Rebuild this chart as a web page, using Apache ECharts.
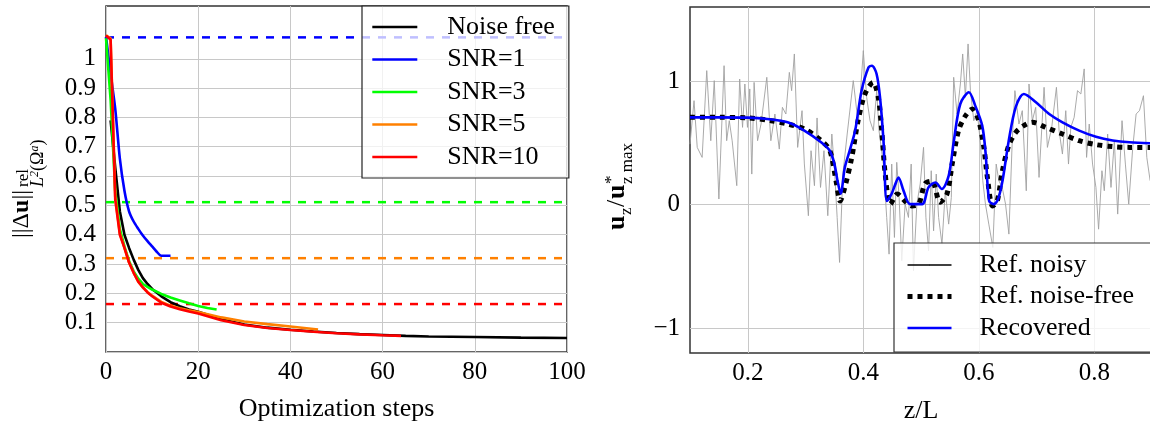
<!DOCTYPE html>
<html>
<head>
<meta charset="utf-8">
<script src="https://cdn.jsdelivr.net/npm/echarts@6/dist/echarts.min.js"></script>
<style>
html,body{margin:0;padding:0;background:#fff;}
#chart{width:1150px;height:426px;}
</style>
</head>
<body>
<div id="chart"></div>
<script>
// ---------- Left panel data ----------
const seriesNamesLeft = ['Noise free', 'SNR=1', 'SNR=3', 'SNR=5', 'SNR=10'];

const noiseFreeSteps = [1,2,3,4,5,6,7,8,9,10,12,14,16,18,20,25,30,35,40,45,50,55,60,65,70,80,90,100];
const noiseFreeErr   = [0.79,0.63,0.48,0.40,0.355,0.315,0.28,0.252,0.232,0.215,0.19,0.17,0.156,0.145,0.137,0.112,0.094,0.083,0.076,0.07,0.065,0.061,0.058,0.055,0.053,0.051,0.049,0.048];

const snr1Steps = [0,1,2,3,4,5,6,7,8,9,10,11,12,13,14];
const snr1Err   = [1.075,0.95,0.83,0.66,0.55,0.48,0.445,0.42,0.397,0.378,0.36,0.342,0.328,0.328,0.328];

const snr3Steps = [0,1,2,3,4,5,6,7,8,9,10,12,14,16,18,20,22,24];
const snr3Err   = [1.07,0.86,0.55,0.42,0.36,0.31,0.275,0.25,0.232,0.222,0.213,0.198,0.186,0.176,0.166,0.157,0.15,0.145];

const snr5Steps = [0,1,2,3,4,5,6,7,8,9,10,12,14,16,18,20,25,30,35,40,46];
const snr5Err   = [1.08,1.07,0.53,0.405,0.355,0.305,0.27,0.24,0.22,0.205,0.192,0.171,0.158,0.149,0.142,0.136,0.118,0.104,0.095,0.087,0.077];

const snr10Steps = [0,1,2,3,4,5,6,7,8,9,10,12,14,16,18,20,25,30,35,40,45,50,55,60,64];
const snr10Err   = [1.08,1.065,0.52,0.40,0.355,0.305,0.27,0.24,0.22,0.203,0.19,0.168,0.155,0.146,0.138,0.131,0.108,0.092,0.082,0.075,0.069,0.064,0.06,0.057,0.055];

// noise level (dashed) for SNR=1, 3, 5, 10
const noiseLevels = [1.073, 0.511, 0.32, 0.1635];
const stepRange = [0, 100];

// ---------- Right panel data ----------
const seriesNamesRight = ['Ref. noisy', 'Ref. noise-free', 'Recovered'];

const noisyZ = [0.100,0.107,0.1125,0.121,0.129,0.136,0.142,0.150,0.159,0.1635,0.168,0.173,0.181,0.186,0.191,0.195,0.1995,0.2035,0.207,0.211,0.217,0.223,0.233,0.240,0.247,0.2546,0.260,0.266,0.272,0.276,0.2807,0.2864,0.294,0.298,0.305,0.3096,0.3155,0.32,0.326,0.332,0.3386,0.3456,0.3503,0.3548,0.359,0.3647,0.3722,
  0.3827,0.3914,0.4001,0.4059,0.4117,0.4175,0.4233,0.4273,0.4348,0.4406,0.4447,0.4493,0.454,0.458,0.4621,0.4667,0.4725,0.4783,0.483,0.487,0.4928,0.4986,0.5044,0.5085,0.5131,0.5177,0.5218,0.5264,0.5305,0.5363,0.5421,0.5479,0.5525,0.5566,0.5624,0.5682,0.5722,0.5769,0.5815,0.5856,0.5914,0.5972,0.603,0.607,0.6116,0.6174,0.6244,0.6302,
  0.6348,0.6406,0.6464,0.6522,0.658,0.6626,0.6696,0.6754,0.6823,0.687,0.6928,0.6986,0.7044,0.7131,0.7189,0.7264,0.7345,0.7391,0.7449,0.7507,0.7554,0.7594,0.7652,0.771,0.7768,0.7826,0.7867,0.7913,0.7971,0.8029,0.8075,0.8133,0.8174,0.8232,0.829,0.8348,0.8406,0.8481,0.8539,0.8597,0.8667,0.8725,0.8783,0.8852,0.891,0.8968];
const noisyVal = [0.49,0.842,0.464,0.383,1.085,0.518,1.004,0.046,1.125,0.518,0.68,0.518,0.154,1.017,0.626,0.977,0.626,0.937,0.248,0.99,0.518,0.653,1.031,0.518,0.734,0.45,0.788,0.734,1.071,0.923,1.22,0.464,0.761,0.33,-0.089,0.437,0.154,0.702,0.14,0.437,-0.089,0.572,0.275,-0.103,-0.467,0.248,0.572,
  1.004,0.653,1.247,0.869,0.68,0.599,0.923,0.599,0.329,-0.103,-0.40,0.329,-0.265,0.343,0.059,-0.453,0.005,-0.103,0.329,-0.534,0.005,0.167,0.464,-0.103,-0.373,0.275,-0.211,0.248,-0.103,-0.319,0.113,-0.157,0.059,1.031,0.734,0.977,1.22,0.869,1.301,0.923,0.68,0.761,0.491,0.194,0.005,-0.157,-0.346,0.329,
  0.194,0.14,0.005,-0.238,0.518,0.923,0.653,0.761,0.113,0.977,0.68,0.788,0.221,0.95,0.464,0.626,0.95,0.599,0.41,0.761,0.329,0.626,0.707,0.923,0.896,1.099,0.383,0.653,0.329,0.14,-0.198,0.275,0.113,0.572,0.14,0.518,-0.076,0.68,0.329,0.005,0.464,0.734,0.761,0.882,0.383,0.194];

const refZ   = [0.10,0.15,0.20,0.24,0.269,0.298,0.327,0.342,0.353,0.36,0.368,0.38,0.391,0.403,0.417,0.426,0.432,0.438,0.447,0.459,0.472,0.484,0.496,0.507,0.519,0.533,0.545,0.554,0.565,0.577,0.589,0.600,0.609,0.615,0.624,0.632,0.641,0.652,0.664,0.678,0.693,0.716,0.745,0.774,0.803,0.832,0.861,0.90];
const refVal = [0.707,0.707,0.703,0.68,0.653,0.613,0.52,0.44,0.19,0.03,0.14,0.38,0.68,0.896,0.99,0.87,0.60,0.25,0.005,0.087,0.03,-0.01,0.005,0.17,0.19,0.02,0.087,0.33,0.60,0.72,0.775,0.68,0.46,0.22,-0.01,0.03,0.275,0.48,0.585,0.64,0.667,0.626,0.572,0.518,0.486,0.47,0.464,0.464];

const recZ   = [0.10,0.15,0.20,0.234,0.269,0.298,0.327,0.342,0.350,0.356,0.361,0.368,0.376,0.386,0.397,0.409,0.415,0.423,0.429,0.435,0.441,0.449,0.455,0.461,0.47,0.481,0.502,0.513,0.525,0.536,0.548,0.557,0.568,0.583,0.594,0.606,0.612,0.618,0.626,0.633,0.641,0.652,0.664,0.678,0.699,0.722,0.745,0.774,0.803,0.832,0.861,0.90];
const recVal = [0.707,0.707,0.705,0.694,0.667,0.60,0.505,0.437,0.33,0.18,0.09,0.30,0.43,0.60,0.92,1.11,1.125,1.06,0.87,0.52,0.03,0.087,0.16,0.22,0.11,0.005,0.005,0.14,0.18,0.127,0.235,0.52,0.815,0.91,0.80,0.64,0.41,0.03,0.005,0.04,0.19,0.52,0.79,0.896,0.83,0.734,0.667,0.60,0.55,0.52,0.505,0.497];

// ---------- helpers ----------
const zip = (xs, ys) => xs.map((x, i) => [x, ys[i]]);
const SERIF = "'Liberation Serif', 'DejaVu Serif', serif";
const GRID = '#c8c8c8';

const leftColors = ['#000000', '#0000ff', '#00ff00', '#ff8000', '#ff0000'];
const leftData = [
  zip(noiseFreeSteps, noiseFreeErr),
  zip(snr1Steps, snr1Err),
  zip(snr3Steps, snr3Err),
  zip(snr5Steps, snr5Err),
  zip(snr10Steps, snr10Err)
];

const series = [];
// dashed noise levels
noiseLevels.forEach((lv, i) => {
  series.push({
    name: 'level' + i, type: 'line', xAxisIndex: 0, yAxisIndex: 0,
    data: [[stepRange[0], lv], [stepRange[1], lv]],
    symbol: 'none', silent: true, z: 2,
    lineStyle: { color: leftColors[i + 1], width: 2.5, type: [8, 8] }
  });
});
seriesNamesLeft.forEach((nm, i) => {
  series.push({
    name: nm, type: 'line', xAxisIndex: 0, yAxisIndex: 0,
    data: leftData[i], symbol: 'none', z: 3, smooth: i === 1 ? 0.25 : false,
    lineStyle: { color: leftColors[i], width: 2.6 },
    itemStyle: { color: leftColors[i] }
  });
});
series.push({
  name: seriesNamesRight[0], type: 'line', xAxisIndex: 1, yAxisIndex: 1,
  data: zip(noisyZ, noisyVal), symbol: 'none', z: 2,
  lineStyle: { color: '#a0a0a0', width: 0.9 }, itemStyle: { color: '#000' }
});
series.push({
  name: seriesNamesRight[1], type: 'line', xAxisIndex: 1, yAxisIndex: 1,
  data: zip(refZ, refVal), symbol: 'none', smooth: 0.3, z: 3,
  lineStyle: { color: '#000', width: 5, type: [5, 5], cap: 'butt' }, itemStyle: { color: '#000' }
});
series.push({
  name: seriesNamesRight[2], type: 'line', xAxisIndex: 1, yAxisIndex: 1,
  data: zip(recZ, recVal), symbol: 'none', smooth: 0.3, z: 4,
  lineStyle: { color: '#0000ff', width: 2.6 }, itemStyle: { color: '#0000ff' }
});

const leftYColors = [];
for (let i = 0; i < 11; i++) leftYColors.push(GRID);
leftYColors.push('transparent', 'transparent');

const labelStyle = { fontFamily: SERIF, fontSize: 25, color: '#000' };

const option = {
  animation: false,
  backgroundColor: '#fff',
  textStyle: { fontFamily: SERIF },
  grid: [
    { left: 106, top: 6, width: 461, height: 346, show: true, borderColor: '#333', borderWidth: 1.5, outerBoundsMode: 'none', containLabel: false },
    { left: 690, top: 7, width: 462, height: 346, show: true, borderColor: '#333', borderWidth: 1.5, outerBoundsMode: 'none', containLabel: false }
  ],
  xAxis: [
    { type: 'value', gridIndex: 0, min: 0, max: 100, interval: 20,
      axisLine: { show: false }, axisTick: { show: false },
      splitLine: { show: true, lineStyle: { color: GRID, width: 1 } },
      axisLabel: Object.assign({ margin: 8 }, labelStyle),
      name: 'Optimization steps', nameLocation: 'middle', nameGap: 44,
      nameTextStyle: { fontFamily: SERIF, fontSize: 26, color: '#000' } },
    { type: 'value', gridIndex: 1, min: 0.1, max: 0.9, interval: 0.1,
      axisLine: { show: false }, axisTick: { show: false },
      splitLine: { show: true, lineStyle: { color: ['transparent', GRID], width: 1 } },
      axisLabel: Object.assign({ margin: 8, formatter: v => { const r = Math.round(v * 10); return (Math.abs(v * 10 - r) < 1e-6 && r % 2 === 0 && r >= 2 && r <= 8) ? (r / 10).toFixed(1) : ''; } }, labelStyle),
      name: 'z/L', nameLocation: 'middle', nameGap: 45,
      nameTextStyle: { fontFamily: SERIF, fontSize: 26, color: '#000' } }
  ],
  yAxis: [
    { type: 'value', gridIndex: 0, min: 0, max: 1.18, interval: 0.1,
      axisLine: { show: false }, axisTick: { show: false },
      splitLine: { show: true, lineStyle: { color: leftYColors, width: 1 } },
      axisLabel: Object.assign({ margin: 10, formatter: v => { const r = Math.round(v * 10); if (Math.abs(v * 10 - r) > 1e-6 || r < 1 || r > 10) return ''; return r === 10 ? '1' : (r / 10).toFixed(1); } }, labelStyle) },
    { type: 'value', gridIndex: 1, min: -1.2, max: 1.6, interval: 0.2,
      axisLine: { show: false }, axisTick: { show: false },
      splitLine: { show: true, lineStyle: { color: ['transparent', GRID, 'transparent', 'transparent', 'transparent'], width: 1 } },
      axisLabel: Object.assign({ margin: 10, formatter: v => { const r = Math.round(v); if (Math.abs(v - r) > 1e-6) return ''; return r < 0 ? '\u2212' + Math.abs(r) : String(r); } }, labelStyle) }
  ],
  legend: [
    { data: seriesNamesLeft, orient: 'vertical', left: 362, top: 6,
      itemWidth: 45, itemHeight: 1, itemGap: 6.5, padding: [8, 14, 8, 9],
      backgroundColor: 'rgba(255,255,255,0.75)', borderColor: '#222', borderWidth: 1.2,
      selectedMode: false,
      lineStyle: { width: 2.6 },
      formatter: n => '{t|' + n + '}',
      textStyle: { fontFamily: SERIF, fontSize: 26, color: '#000', lineHeight: 26,
        rich: { t: { fontFamily: SERIF, fontSize: 26, color: '#000', padding: [0, 0, 0, 25] } } } },
    { data: [
        { name: seriesNamesRight[0], lineStyle: { color: '#000000', width: 1.6, opacity: 1 } },
        { name: seriesNamesRight[1], lineStyle: { width: 5 } },
        { name: seriesNamesRight[2], lineStyle: { width: 2.6 } }
      ],
      orient: 'vertical', left: 894, top: 243,
      itemWidth: 44, itemHeight: 1, itemGap: 5.5, padding: [9, 30, 11, 11],
      backgroundColor: 'rgba(255,255,255,0.8)', borderColor: '#333', borderWidth: 1.2,
      selectedMode: false,
      formatter: n => '{t|' + n + '}',
      textStyle: { fontFamily: SERIF, fontSize: 26, color: '#000', lineHeight: 26,
        rich: { t: { fontFamily: SERIF, fontSize: 26, color: '#000', padding: [0, 0, 0, 23] } } } }
  ],
  graphic: [
    // left y-axis label: ||Δu||^rel_{L²(Ω^a)}
    { type: 'text', x: 22, y: 238, rotation: Math.PI / 2,
      style: { text: '{a|||\u0394}{b|u}{a|||}', align: 'left', verticalAlign: 'middle', textAlign: 'left', textVerticalAlign: 'middle',
        rich: { a: { fontFamily: SERIF, fontSize: 24, fill: '#000' }, b: { fontFamily: SERIF, fontSize: 24, fontWeight: 'bold', fill: '#000' } } } },
    { type: 'text', x: 24, y: 187, rotation: Math.PI / 2,
      style: { text: 'rel', font: '17px ' + SERIF, fill: '#000', align: 'left', verticalAlign: 'middle', textAlign: 'left', textVerticalAlign: 'middle' } },
    { type: 'text', x: 38, y: 187, rotation: Math.PI / 2,
      style: { text: '{i|L}{s|2}{n|(\u03A9}{s|a}{n|)}', align: 'left', verticalAlign: 'middle', textAlign: 'left', textVerticalAlign: 'middle',
        rich: { i: { fontFamily: SERIF, fontSize: 18, fontStyle: 'italic', fill: '#000' },
                n: { fontFamily: SERIF, fontSize: 18, fill: '#000' },
                s: { fontFamily: SERIF, fontSize: 12, fontStyle: 'italic', fill: '#000', verticalAlign: 'top' } } } },
    // right y-axis label: u_z / u*_{z max}
    { type: 'text', x: 617.5, y: 230, rotation: Math.PI / 2,
      style: { text: 'u', font: 'bold 26px ' + SERIF, fill: '#000', align: 'left', verticalAlign: 'middle', textAlign: 'left', textVerticalAlign: 'middle' } },
    { type: 'text', x: 627, y: 215, rotation: Math.PI / 2,
      style: { text: 'z', font: '17px ' + SERIF, fill: '#000', align: 'left', verticalAlign: 'middle', textAlign: 'left', textVerticalAlign: 'middle' } },
    { type: 'text', x: 617.5, y: 207, rotation: Math.PI / 2,
      style: { text: '/', font: '26px ' + SERIF, fill: '#000', align: 'left', verticalAlign: 'middle', textAlign: 'left', textVerticalAlign: 'middle' } },
    { type: 'text', x: 617.5, y: 199, rotation: Math.PI / 2,
      style: { text: 'u', font: 'bold 26px ' + SERIF, fill: '#000', align: 'left', verticalAlign: 'middle', textAlign: 'left', textVerticalAlign: 'middle' } },
    { type: 'text', x: 612, y: 184, rotation: Math.PI / 2,
      style: { text: '*', font: '17px ' + SERIF, fill: '#000', align: 'left', verticalAlign: 'middle', textAlign: 'left', textVerticalAlign: 'middle' } },
    { type: 'text', x: 628, y: 184, rotation: Math.PI / 2,
      style: { text: 'z max', font: '17px ' + SERIF, fill: '#000', align: 'left', verticalAlign: 'middle', textAlign: 'left', textVerticalAlign: 'middle' } }
  ],
  series: series
};

const chart = echarts.init(document.getElementById('chart'), null, { renderer: 'canvas' });
chart.setOption(option);
</script>
</body>
</html>
